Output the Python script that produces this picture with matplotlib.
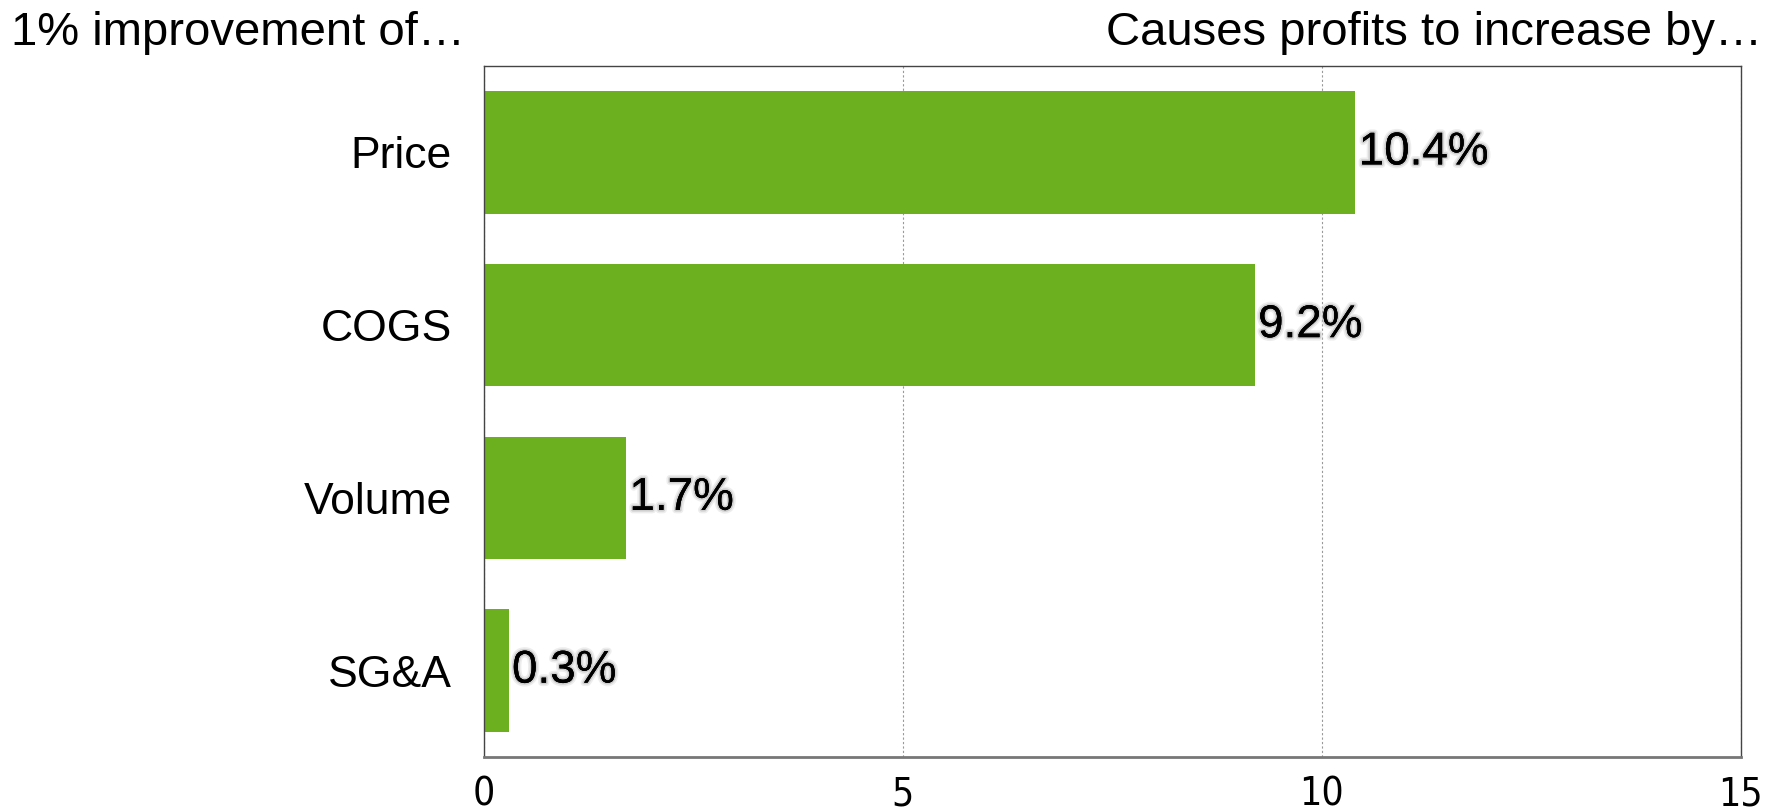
import matplotlib
matplotlib.use('Agg')
import matplotlib.pyplot as plt
import matplotlib.patheffects as pe
from matplotlib import font_manager

categories = ['Price', 'COGS', 'Volume', 'SG&A']
values = [10.4, 9.2, 1.7, 0.3]
value_labels = ['10.4%', '9.2%', '1.7%', '0.3%']
xticks = [0, 5, 10, 15]

names = {f.name for f in font_manager.fontManager.ttflist}
narrow = 'Liberation Sans Narrow' if 'Liberation Sans Narrow' in names else 'DejaVu Sans'

plt.rcParams['font.family'] = ['Liberation Sans', 'DejaVu Sans']

fig = plt.figure(figsize=(17.75, 8.11), dpi=100)
ax = fig.add_axes([0.2724, 0.0666, 0.7084, 0.852])

ypos = list(range(len(categories)))
ax.barh(ypos, values, height=0.71, color='#6DB01F', zorder=2)

for y, v, lab in zip(ypos, values, value_labels):
    ax.text(v + 0.04, y, lab, va='center', ha='left', fontsize=33, color='black', zorder=3,
            path_effects=[pe.withStroke(linewidth=5, foreground='#cccccc', alpha=0.35),
                          pe.withStroke(linewidth=2.5, foreground='#999999', alpha=0.35),
                          pe.Normal()])

ax.set_xlim(0, 15)
ax.set_ylim(3.5, -0.5)
ax.set_yticks(ypos)
ax.set_yticklabels(categories, fontsize=32)
ax.set_xticks(xticks)
ax.set_xticklabels([str(t) for t in xticks], fontsize=28, family=narrow, stretch='condensed')
ax.tick_params(axis='y', length=0, pad=23)
ax.tick_params(axis='x', length=0, pad=13)

ax.grid(axis='x', linestyle=(0, (2, 2)), color='#999999', linewidth=0.8, zorder=1)
ax.set_axisbelow(True)

for s in ['left', 'top', 'right']:
    ax.spines[s].set_color('#444444')
    ax.spines[s].set_linewidth(1.0)
ax.spines['bottom'].set_color('#777777')
ax.spines['bottom'].set_linewidth(2.0)

fig.text(0.006, 0.945, '1% improvement of…', fontsize=34, ha='left', va='baseline')
fig.text(0.993, 0.945, 'Causes profits to increase by…', fontsize=34, ha='right', va='baseline')

fig.savefig('out.png', dpi=100)
